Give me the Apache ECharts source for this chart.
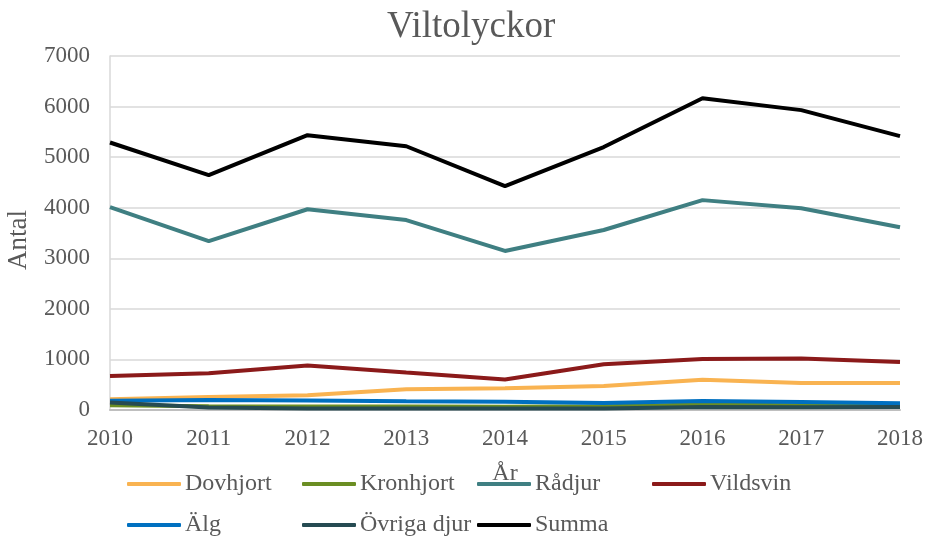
<!DOCTYPE html>
<html>
<head>
<meta charset="utf-8">
<script src="https://cdn.jsdelivr.net/npm/echarts@6/dist/echarts.min.js"></script>
<style>
  html, body { margin: 0; padding: 0; background: #fff; }
  #main { width: 926px; height: 536px; }
</style>
</head>
<body>
<div id="main"></div>
<script>
// years on the x axis
const years = ['2010', '2011', '2012', '2013', '2014', '2015', '2016', '2017', '2018'];

// values
const dovhjort  = [215, 255, 290, 410, 430, 475, 600, 535, 535];
const kronhjort = [95, 75, 70, 70, 65, 75, 110, 95, 90];
const radjur    = [4010, 3340, 3970, 3755, 3145, 3560, 4150, 3990, 3615];
const vildsvin  = [670, 725, 880, 740, 605, 905, 1010, 1020, 950];
const alg       = [185, 200, 190, 175, 165, 140, 180, 160, 135];
const ovriga    = [150, 50, 30, 30, 30, 30, 60, 55, 60];
const summa     = [5290, 4645, 5435, 5215, 4425, 5200, 6165, 5930, 5415];

const names  = ['Dovhjort', 'Kronhjort', 'Rådjur', 'Vildsvin', 'Älg', 'Övriga djur', 'Summa'];
const values = [dovhjort, kronhjort, radjur, vildsvin, alg, ovriga, summa];
const colors = ['#F9B351', '#6B8E23', '#3F7F82', '#8B1A1A', '#0070C0', '#264B52', '#000000'];

// where each legend entry sits (icon left, row centre)
const legendPos = [
    [127, 484], [302, 484], [477, 484], [652, 484],
    [127, 525], [302, 525], [477, 525]
];

const font = 'Liberation Serif';
let myChart = echarts.init(document.getElementById('main'));

let series = [];
for (let i = 0; i < names.length; i++) {
    series.push({
        name: names[i],
        type: 'line',
        data: values[i],
        symbol: 'none',
        z: names[i] == 'Summa' ? 3 : 2,
        lineStyle: {width: 4, color: colors[i]},
        itemStyle: {color: colors[i]}
    });
}

let legends = names.map(function(n, i) {
    return {
        data: [n],
        left: legendPos[i][0],
        top: legendPos[i][1] - 14,
        icon: 'roundRect',
        itemWidth: 54,
        itemHeight: 4,
        itemGap: 0,
        padding: 0,
        textStyle: {fontFamily: font, fontSize: 24, color: '#595959', padding: [0, 0, 0, -1], lineHeight: 28}
    };
});

let option = {
    animation: false,
    backgroundColor: '#fff',
    title: {
        text: 'Viltolyckor',
        left: 387,
        top: 9,
        padding: 0,
        textStyle: {fontFamily: font, fontSize: 37, fontWeight: 'normal', color: '#595959'}
    },
    legend: legends,
    grid: {left: 110, right: 26, top: 56, bottom: 126, outerBoundsMode: 'none'},
    xAxis: {
        type: 'category',
        data: years,
        boundaryGap: false,
        name: 'År',
        nameLocation: 'middle',
        nameGap: 52,
        nameTextStyle: {fontFamily: font, fontSize: 24, color: '#595959'},
        axisLine: {lineStyle: {color: '#BFBFBF', width: 2}},
        axisTick: {show: false},
        axisLabel: {fontFamily: font, fontSize: 23, color: '#595959', margin: 17},
        splitLine: {show: false}
    },
    yAxis: {
        type: 'value',
        min: 0,
        max: 7000,
        interval: 1000,
        name: 'Antal',
        nameLocation: 'middle',
        nameGap: 78,
        nameTextStyle: {fontFamily: font, fontSize: 27, color: '#595959', padding: [0, 14, 0, 0]},
        axisLine: {show: true, lineStyle: {color: '#D9D9D9', width: 1.5}},
        axisTick: {show: false},
        axisLabel: {fontFamily: font, fontSize: 23, color: '#595959', margin: 20,
            formatter: function(v) { return String(v); }},
        splitLine: {lineStyle: {color: '#D9D9D9', width: 1.5}}
    },
    series: series
};
myChart.setOption(option);
</script>
</body>
</html>
